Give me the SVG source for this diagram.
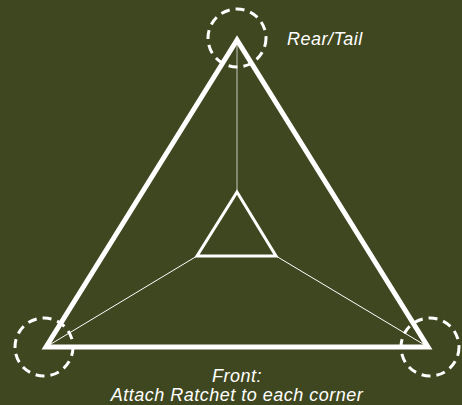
<svg xmlns="http://www.w3.org/2000/svg" width="462" height="405" viewBox="0 0 462 405">
<style>
.tri{fill:none;stroke:#ffffff;stroke-linejoin:miter}
.ring{fill:none;stroke:#ffffff;stroke-width:3;stroke-dasharray:9 6}
.conn{stroke:#ffffff;stroke-width:1;fill:none}
.lbl{fill:#ffffff;font-family:"Liberation Sans",Arial,sans-serif;font-style:italic;font-size:18px;letter-spacing:0.5px}
</style>
<rect width="462" height="405" fill="#3f4720"/>
<g id="connectors">
<line class="conn" x1="237" y1="42" x2="237" y2="192" stroke-opacity="0.7"/>
<line class="conn" x1="46" y1="347" x2="197" y2="256"/>
<line class="conn" x1="428" y1="347" x2="276" y2="256"/>
</g>
<g id="outer-triangle">
<polygon class="tri" stroke-width="5" points="237,40 46,347 428,347"/>
</g>
<g id="inner-triangle">
<polygon class="tri" stroke-width="3" points="237,192 197,256 276,256"/>
</g>
<g id="ring-top"><circle class="ring" cx="237" cy="38" r="29"/></g>
<g id="ring-left"><circle class="ring" cx="44" cy="347" r="29"/></g>
<g id="ring-right"><circle class="ring" cx="430" cy="347" r="29"/></g>
<g id="label-rear"><text class="lbl" x="287" y="45">Rear/Tail</text></g>
<g id="label-front">
<text class="lbl" x="237" y="382" text-anchor="middle">Front:</text>
<text class="lbl" x="237" y="401" text-anchor="middle">Attach Ratchet to each corner</text>
</g>
</svg>
